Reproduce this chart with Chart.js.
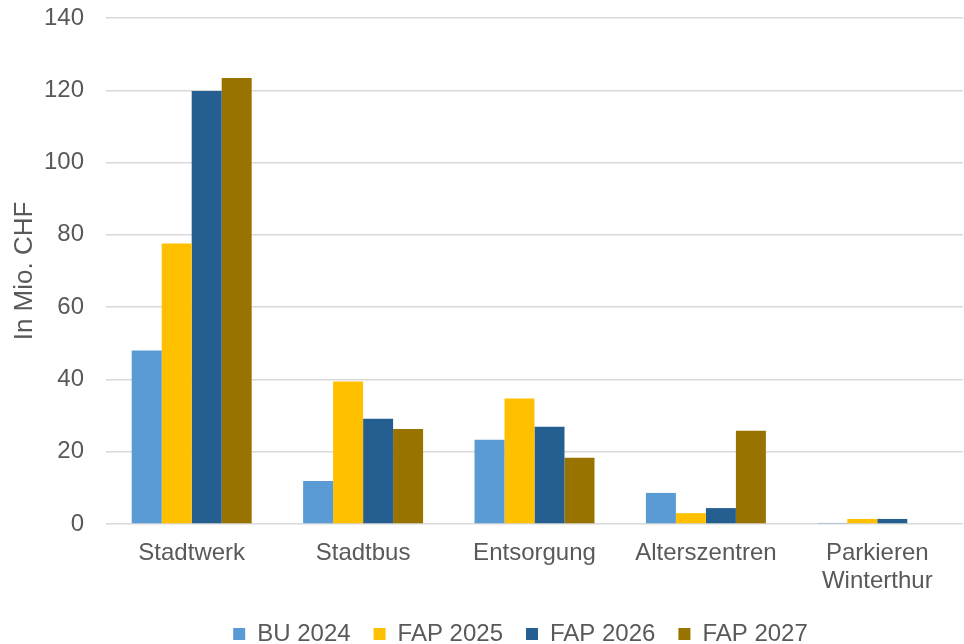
<!DOCTYPE html>
<html>
<head>
<meta charset="utf-8">
<script src="https://cdn.jsdelivr.net/npm/chart.js@4"></script>
<style>
html,body{margin:0;padding:0;background:#fff;}
#wrap{width:964px;height:644px;}
</style>
</head>
<body>
<div id="wrap"><canvas id="c" width="964" height="644"></canvas></div>
<script>
const categories = ["Stadtwerk", "Stadtbus", "Entsorgung", "Alterszentren", ["Parkieren", "Winterthur"]];
const seriesNames = ["BU 2024", "FAP 2025", "FAP 2026", "FAP 2027"];
const bu2024  = [48.0, 11.9, 23.3, 8.6, 0.3];
const fap2025 = [77.6, 39.4, 34.7, 3.0, 1.4];
const fap2026 = [119.8, 29.1, 26.9, 4.4, 1.4];
const fap2027 = [123.4, 26.3, 18.3, 25.8, 0];
const yTicks = [0, 20, 40, 60, 80, 100, 120, 140];
const colors = ["#5B9BD5", "#FFC000", "#255E91", "#997300"];

const seriesValues = [bu2024, fap2025, fap2026, fap2027];
const textColor = "#595959";
const fontFamily = "'Liberation Sans', Arial, sans-serif";

// shift the legend drawing (does not touch data marks)
const legendShift = {
  id: "legendShift",
  afterLayout(chart) {
    const lg = chart.legend;
    if (lg && !lg._shifted) {
      const orig = lg.draw.bind(lg);
      lg.draw = function (...a) {
        const ctx = chart.ctx;
        ctx.save();
        ctx.translate(39, 0);
        orig(...a);
        ctx.restore();
      };
      lg._shifted = true;
    }
  }
};

new Chart(document.getElementById("c"), {
  type: "bar",
  data: {
    labels: categories,
    datasets: seriesNames.map((n, i) => ({
      label: n,
      data: seriesValues[i],
      backgroundColor: colors[i],
      borderWidth: 0,
      categoryPercentage: 0.7,
      barPercentage: 1.0
    }))
  },
  plugins: [legendShift],
  options: {
    responsive: false,
    animation: false,
    layout: { padding: { top: 18, right: 1, left: 0, bottom: -12 } },
    plugins: {
      legend: {
        position: "bottom",
        labels: {
          color: textColor,
          font: { family: fontFamily, size: 24, lineHeight: 1.15 },
          boxWidth: 12,
          boxHeight: 12,
          padding: 23
        }
      },
      tooltip: { enabled: false }
    },
    scales: {
      x: {
        grid: { display: false },
        border: { display: false },
        afterFit: (axis) => { axis.height = 75; axis.paddingLeft = 0; axis.paddingRight = 0; },
        ticks: {
          color: textColor,
          font: { family: fontFamily, size: 24, lineHeight: 1.15 },
          maxRotation: 0,
          autoSkip: false,
          padding: 8
        }
      },
      y: {
        min: 0,
        max: 140,
        afterBuildTicks: (axis) => { axis.ticks = yTicks.map(v => ({ value: v })); },
        afterFit: (axis) => { axis.width = 106; axis.paddingTop = 0; axis.paddingBottom = 0; },
        grid: { color: "#d9d9d9", lineWidth: 1.5, drawTicks: false },
        border: { display: false },
        ticks: {
          color: textColor,
          font: { family: fontFamily, size: 24 },
          padding: 22
        },
        title: {
          display: true,
          text: "In Mio. CHF",
          color: textColor,
          font: { family: fontFamily, size: 26 },
          padding: { top: 9, bottom: 0 }
        }
      }
    }
  }
});
</script>
</body>
</html>
